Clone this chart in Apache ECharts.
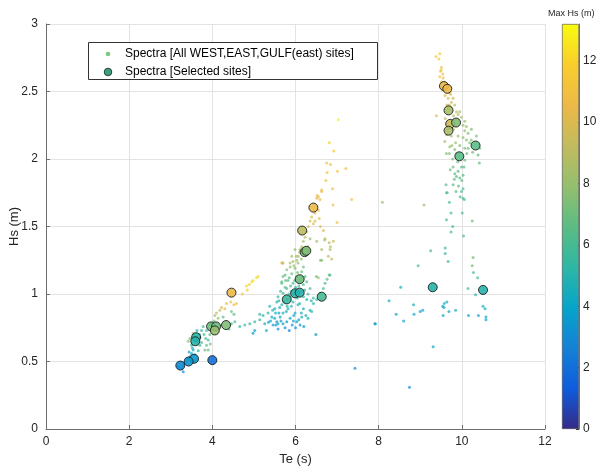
<!DOCTYPE html>
<html><head><meta charset="utf-8">
<script src="https://cdn.jsdelivr.net/npm/echarts@6/dist/echarts.min.js"></script>
<style>html,body{margin:0;padding:0;background:#fff}#c{width:598px;height:470px}</style>
</head><body><div id="c"></div>
<script>
// ---- tick labels ----
const xTicks = [0, 2, 4, 6, 8, 10, 12];
const yTicks = [0, 0.5, 1, 1.5, 2, 2.5, 3];
const cbTicks = [0, 2, 4, 6, 8, 10, 12];
const cbMax = 13.2;

// ---- all spectra: [Te, Hs, MaxHs] ----
const spectraLow = [
 [4.98,1.10,12.5],[4.89,1.07,12],[4.84,1.03,11.5],[4.72,1.00,11],[4.82,1.06,12],[4.95,1.09,12],[5.06,1.12,12.5],[5.10,1.13,12],
 [4.34,0.93,10.5],[4.44,0.94,11],[4.52,0.92,10.5],[4.58,0.93,11],[4.22,0.90,10],[4.18,0.88,9],[4.30,0.89,10],[4.46,0.87,7],
 [4.52,0.85,6.5],[4.10,0.86,9.5],[4.06,0.84,8.5],[4.26,0.83,6.5],
 [3.78,0.76,6],[3.86,0.73,6],[3.94,0.70,6.5],[3.90,0.66,6],[3.86,0.62,6.5],[3.82,0.585,7],[3.74,0.73,5.5],[3.69,0.70,5.5],
 [3.63,0.73,5],[3.54,0.71,8],[3.42,0.65,8],[3.46,0.67,7.5],[3.50,0.62,5],[3.54,0.585,4.5],[3.50,0.56,4],[3.46,0.535,3.5],
 [3.38,0.50,3.5],[3.34,0.49,3],[3.26,0.45,3],[3.30,0.425,3],[3.18,0.46,2.5],[3.62,0.51,4],[3.58,0.55,4.5],[3.90,0.585,6.5],
 [3.95,0.63,7],[3.70,0.62,5.5],[3.66,0.58,5],
 [3.40,0.52,3.5],[3.52,0.60,4.5],[3.60,0.66,5],[3.70,0.68,5.5],[3.80,0.70,6],[3.96,0.78,7],[4.04,0.80,7.5],[4.14,0.82,8],
 [3.74,0.64,6],[3.84,0.67,6],[3.30,0.47,3],[3.44,0.57,4],
 [4.66,0.76,5.5],[4.78,0.77,5.5],[4.90,0.78,5.5],[5.02,0.795,5.5],[5.14,0.81,5.5],[5.22,0.84,5],[5.34,0.86,5],[5.38,0.91,5],
 [5.45,0.88,5],[5.14,0.85,5],[5.26,0.78,4.5],[5.02,0.73,4],[4.98,0.71,3.5],[5.30,0.73,4],[5.58,0.78,4.5],[4.54,0.795,6],
 [4.46,0.78,6],[4.40,0.74,5.5]
];
const spectraMid = [
 [7.03,2.29,13],[6.81,2.12,12],[6.92,2.06,11.5],[6.75,1.97,11],[6.84,1.96,11],[7.21,1.93,11],[7.01,1.91,11],[6.76,1.90,11],
 [6.73,1.84,11],[6.63,1.77,10.5],[6.89,1.78,11],[6.55,1.72,10.5],[6.52,1.73,10.5],[7.35,1.70,11],[6.90,1.66,11],[7.00,1.53,11],
 [6.57,1.56,10.5],[6.59,1.70,10.5],[6.63,1.76,10.5],[6.51,1.71,10.5],[6.55,1.62,10.5],[6.47,1.60,10.5],[6.39,1.57,10],
 [6.35,1.54,10],[6.31,1.50,10],[6.43,1.52,10],[6.47,1.54,10],[6.67,1.47,10],[6.60,1.50,10],
 [6.27,1.46,9],[6.23,1.42,9],[6.19,1.39,8.5],[6.15,1.35,8.5],[6.11,1.33,8],[6.07,1.28,9],[6.03,1.25,8],[5.99,1.33,8],
 [5.91,1.28,8.5],[5.87,1.23,8.5],[5.67,1.23,10],[5.69,1.23,10.5],[6.35,1.41,8],[6.51,1.39,8.5],[6.63,1.33,8.5],[6.63,1.25,7.5],
 [6.87,1.26,9],[6.83,1.33,9],[6.71,1.41,9],[6.91,1.39,9.5],[6.81,1.38,9],[6.84,1.35,9],[6.79,1.28,9],[6.70,1.40,8.5],
 [6.60,1.25,7.5],[5.79,1.18,7.5],[5.70,1.13,7],[5.67,1.09,7],[5.75,1.05,6.5],
 [5.70,1.23,9.5],[5.94,1.24,8.5],[6.06,1.23,8],[6.19,1.20,7],[5.99,1.19,7.5],[5.87,1.20,8],[6.15,1.165,7],[5.91,1.15,7],
 [5.75,1.14,6.5],[6.03,1.13,6.5],[6.23,1.13,6.5],[5.82,1.10,6.5],[5.94,1.08,6],[5.67,1.08,6.5],[6.19,1.07,6],[6.27,1.09,6],
 [6.35,1.04,6],[5.79,1.04,6],[5.70,1.005,5.5],[5.58,0.98,5.5],[5.87,0.98,5.5],[6.19,0.98,5.5],[6.27,0.96,5],[5.55,0.94,5],
 [5.94,0.94,5],[6.43,0.93,5],[5.67,0.92,5],[6.06,0.92,5],[5.50,0.89,4.5],[5.82,0.89,4.5],[6.19,0.89,4.5],[6.35,0.88,5],
 [5.70,0.86,4.5],[5.99,0.86,4.5],[5.43,0.83,4],[5.63,0.83,4],[5.87,0.82,4],[6.15,0.83,4.5],[5.55,0.795,3.5],[5.79,0.795,3.5],
 [6.03,0.795,3.5],[6.39,0.87,5],[6.11,0.77,3.5],[5.46,0.77,3.5],[5.75,0.75,3],[5.58,0.74,3],[5.85,0.73,2.5],[6.49,0.70,3],
 [7.91,0.78,3.5],
 [5.90,1.02,5.5],[6.00,1.05,5.5],[6.10,1.10,6],[5.85,1.12,6.5],[6.05,1.16,7],[5.95,1.00,5.5],[6.10,0.93,5],[5.60,0.86,4],
 [5.90,0.91,5],[6.25,0.84,4.5],[5.35,0.79,4],[5.50,0.82,4],[5.65,0.80,3.5],[5.92,0.77,3.5],[6.00,0.75,3],[6.20,0.76,3.5],
 [5.80,0.96,5],[6.12,1.02,5.5],[6.02,1.28,8],[6.10,1.31,8.5],[5.96,1.21,8],[6.14,1.26,8],[6.22,1.30,8.5],[6.30,1.35,9],
 [5.62,0.90,4.5],[5.72,0.94,5],[5.84,1.00,5.5],[5.98,1.10,6],[6.08,1.06,6],[6.16,1.12,6.5],[6.30,1.00,5.5],[6.38,0.95,5],
 [5.52,0.86,4.5],[5.78,0.87,4.5],[5.96,0.84,4],[6.08,0.81,4],[5.40,0.80,4],[5.70,0.78,3.5],[6.30,0.82,4.5],[5.88,1.06,6],
 [5.76,1.10,6.5],[5.64,1.02,5.5],[6.04,0.97,5.5],[6.22,1.03,5.5],[5.53,0.77,3.5],[5.95,0.80,4],[6.14,0.86,4.5],[5.80,0.91,5],
 [5.60,0.95,5],
 [6.59,1.005,6],[6.67,1.04,6],[6.71,1.08,6],[6.76,1.11,6.5],[6.81,1.14,6.5],[6.83,1.14,6.5],[6.51,0.96,5.5],[6.43,0.97,5.5],
 [6.55,1.12,8.5],[6.50,1.13,7],[7.43,0.45,3]
];
const spectraHigh = [
 [9.38,2.76,11.5],[9.47,2.78,11.5],[9.45,2.74,11.5],[9.51,2.68,11],[9.49,2.65,11],[9.54,2.63,11],[9.47,2.61,11],[9.55,2.60,10.5],
 [9.51,2.57,10.5],[9.58,2.57,10.5],[9.63,2.55,10.5],[9.71,2.49,10],[9.73,2.48,10],[9.67,2.45,10],[9.79,2.45,9.5],[9.75,2.42,9.5],
 [9.70,2.40,9.5],[9.83,2.40,9],[9.75,2.38,9],[9.87,2.35,9],[9.95,2.35,8.5],[9.39,2.32,10],[9.91,2.33,8.5],[9.99,2.31,8.5],
 [10.07,2.28,8],[10.03,2.25,8],[10.11,2.24,8],[10.23,2.22,7.5],[10.07,2.21,8],[10.15,2.19,7.5],[9.63,2.18,8.5],[9.75,2.17,8.5],
 [9.91,2.17,8],[10.03,2.16,8],[10.23,2.14,7.5],[10.35,2.17,7],[9.59,2.13,8.5],[10.11,2.14,7.5],[10.19,2.12,7.5],[9.71,2.09,8],
 [9.83,2.07,7.5],[10.07,2.08,7.5],[10.15,2.08,7],[10.43,2.08,7],[9.70,2.04,7.5],[9.87,2.04,7.5],[10.39,2.03,6.5],[9.63,2.04,7.5],
 [9.78,2.00,7],[10.07,1.99,7],[10.42,1.97,6.5],[9.79,1.94,7],[9.99,1.94,6.5],[10.05,1.94,6.5],[9.91,1.91,6.5],[9.83,1.89,6.5],
 [10.03,1.88,6.5],[9.87,1.87,6.5],[9.95,1.86,6.5],[10.00,1.84,6.5],[9.62,1.81,6.5],[9.79,1.81,6.5],[10.03,1.78,6],[9.63,1.75,6.5],
 [10.03,1.71,6],[9.65,1.75,6.5],[9.99,1.76,6],[10.06,1.70,6],[8.09,1.68,8],[9.09,1.66,8],[9.74,1.60,6],[10.01,1.60,6],
 [9.60,2.30,9],[9.66,2.27,9],[9.80,2.22,8.5],[9.85,2.12,8],[9.95,2.10,7.5],[9.76,2.10,8],[9.90,1.98,7],[9.72,1.92,7],
 [9.82,1.85,6.5],[9.92,1.80,6.5],[9.50,2.66,11],[9.56,2.52,10.5],[9.60,2.47,10],[9.64,2.40,9.5],[9.80,2.32,9],[10.12,2.04,7],
 [10.26,2.05,7],[9.86,1.76,6.5],[9.96,1.72,6],[9.70,1.68,6],
 [10.25,1.54,7],[9.63,1.55,6],[9.78,1.50,6],[9.74,1.46,6],[10.04,1.43,6],[9.60,1.34,5.5],[9.25,1.32,6],[9.60,1.30,5.5],
 [10.27,1.27,7],[9.67,1.24,5.5],[8.95,1.21,6],[10.25,1.21,7],[10.28,1.16,6],[10.38,1.12,6],[8.53,1.05,4.5],[10.15,1.04,6],
 [10.33,0.995,5],[8.25,0.95,4.5],[9.64,0.94,4.5],[9.58,0.93,4.5],[8.84,0.92,4.5],[9.54,0.91,4],[9.57,0.90,4],[10.51,0.91,4.5],
 [10.56,0.89,4.5],[9.06,0.88,4],[9.00,0.87,4],[9.69,0.87,4],[9.85,0.88,4.5],[8.85,0.85,4],[8.42,0.85,4],[9.55,0.84,4],
 [10.16,0.84,4],[10.40,0.84,4],[10.58,0.83,4],[10.58,0.81,4],[8.60,0.80,4],[7.92,0.78,4],[9.31,0.61,4],[8.74,0.31,3]
];

// ---- selected sites ----
const selTe  = [9.57,9.65,9.68,9.72,9.86,9.68,10.33,9.94,9.30,10.51, 6.43,6.16,6.22,6.26,6.10,5.99,6.10,5.79,6.63,4.46, 3.97,4.09,4.06,4.33,3.61,3.59,3.56,3.43,3.23,4.00];
const selHs  = [2.54,2.52,2.36,2.26,2.27,2.21,2.10,2.02,1.05,1.03, 1.64,1.47,1.31,1.32,1.11,1.005,1.01,0.96,0.98,1.01, 0.76,0.76,0.73,0.77,0.68,0.65,0.52,0.50,0.47,0.51];
const selMax = [10.5,10.5,8.5,9.5,7.5,8.5,6.5,6.5,5,5, 10.5,9,7.5,7.5,7,5,5,5.5,6,10.5, 7,7,8,7.5,5,5,3.5,3.5,3,2];

const legendLabels = ['Spectra [All WEST,EAST,GULF(east) sites]', 'Spectra [Selected sites]'];

const parula = ['#352A87','#0F5CDD','#1481D6','#06A4CA','#2EB7A4','#5CBC84','#94BF6E','#C2BB5E','#EDB947','#F9CE2C','#F9FB0E'];

const allPts = spectraLow.concat(spectraMid, spectraHigh);
const selPts = selTe.map((t, i) => [t, selHs[i], selMax[i]]);

const FONT = 'Liberation Sans, Arial, Helvetica, sans-serif';
const chart = echarts.init(document.getElementById('c'), null, {renderer: 'canvas'});

chart.setOption({
  animation: false,
  backgroundColor: '#fff',
  textStyle: {fontFamily: FONT},
  title: {text: 'Max Hs (m)', left: 548, top: 9, padding: 0, textStyle: {fontSize: 9, fontWeight: 'normal', color: '#262626', fontFamily: FONT}},
  grid: [
    {left: 46, right: 53, top: 24, bottom: 41, outerBoundsMode: 'none', containLabel: false},
    {left: 562, width: 17, top: 24, height: 405, outerBoundsMode: 'none', containLabel: false}
  ],
  xAxis: [
    {type: 'value', gridIndex: 0, min: 0, max: 12, interval: 2,
     name: 'Te (s)', nameLocation: 'middle', nameGap: 24, nameMoveOverlap: false,
     nameTextStyle: {fontSize: 13, color: '#262626', fontFamily: FONT},
     axisLine: {show: true, onZero: false, lineStyle: {color: '#6e6e6e', width: 1}},
     axisTick: {show: true, inside: true, length: 4, lineStyle: {color: '#6e6e6e'}},
     axisLabel: {fontSize: 12, color: '#262626', margin: 7, fontFamily: FONT, customValues: xTicks},
     splitLine: {show: true, lineStyle: {color: '#e3e3e3', width: 1}}},
    {type: 'category', gridIndex: 1, data: ['c'], show: false}
  ],
  yAxis: [
    {type: 'value', gridIndex: 0, min: 0, max: 3, interval: 0.5,
     name: 'Hs (m)', nameLocation: 'middle', nameGap: 25, nameRotate: 90, nameMoveOverlap: false,
     nameTextStyle: {fontSize: 13, color: '#262626', fontFamily: FONT},
     axisLine: {show: true, onZero: false, lineStyle: {color: '#6e6e6e', width: 1}},
     axisTick: {show: true, inside: true, length: 4, lineStyle: {color: '#6e6e6e'}},
     axisLabel: {fontSize: 12, color: '#262626', margin: 8, fontFamily: FONT, customValues: yTicks},
     splitLine: {show: true, lineStyle: {color: '#e3e3e3', width: 1}}},
    {type: 'value', gridIndex: 1, min: 0, max: cbMax, position: 'right',
     axisLine: {show: true, lineStyle: {color: '#555', width: 0.8}},
     axisTick: {show: true, inside: true, length: 3, lineStyle: {color: '#333'}, customValues: cbTicks},
     axisLabel: {fontSize: 12, color: '#262626', margin: 4, fontFamily: FONT, customValues: cbTicks},
     splitLine: {show: false}}
  ],
  visualMap: {
    show: false, type: 'continuous', min: 0, max: cbMax, dimension: 2, seriesIndex: [0, 1],
    inRange: {color: parula}
  },
  series: [
    {type: 'scatter', name: legendLabels[0], xAxisIndex: 0, yAxisIndex: 0, data: allPts,
     symbol: 'circle', symbolSize: 3, itemStyle: {opacity: 0.7}, z: 2},
    {type: 'scatter', name: legendLabels[1], xAxisIndex: 0, yAxisIndex: 0, data: selPts,
     symbol: 'circle', symbolSize: 9, itemStyle: {borderColor: '#1e1e1e', borderWidth: 1, opacity: 0.9}, z: 3},
    {type: 'bar', xAxisIndex: 1, yAxisIndex: 1, data: [cbMax], barWidth: '100%', silent: true,
     itemStyle: {
       borderColor: '#444', borderWidth: 0.6,
       color: new echarts.graphic.LinearGradient(0, 1, 0, 0,
         parula.map((c, i) => ({offset: i / (parula.length - 1), color: c})))
     }}
  ],
  graphic: [
    {type: 'group', left: 88, top: 42, z: 100, children: [
      {type: 'rect', z: 100, shape: {x: 0.5, y: 0.5, width: 289, height: 37},
       style: {fill: '#fff', stroke: '#333', lineWidth: 1}},
      {type: 'circle', z: 101, shape: {cx: 20, cy: 12, r: 2.3}, style: {fill: '#6cc06a', opacity: 0.85}},
      {type: 'circle', z: 101, shape: {cx: 20, cy: 30, r: 3.8}, style: {fill: '#3a9f7c', stroke: '#1e1e1e', lineWidth: 0.8}},
      {type: 'text', z: 101, x: 37, y: 12, style: {text: legendLabels[0], fontSize: 12, fill: '#000', fontFamily: FONT, verticalAlign: 'middle'}},
      {type: 'text', z: 101, x: 37, y: 30, style: {text: legendLabels[1], fontSize: 12, fill: '#000', fontFamily: FONT, verticalAlign: 'middle'}}
    ]}
  ]
});
</script>
</body></html>
